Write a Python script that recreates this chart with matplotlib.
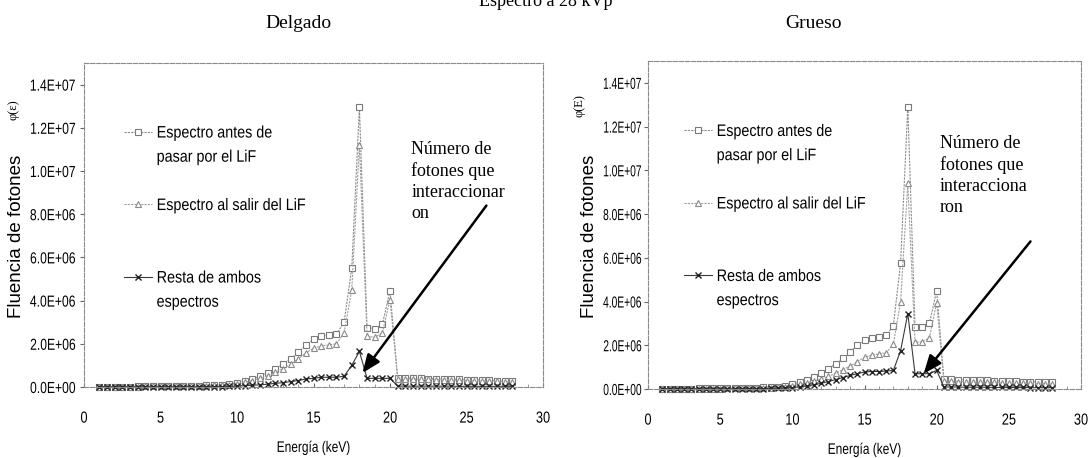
import numpy as np
import matplotlib
matplotlib.use("Agg")
import matplotlib.pyplot as plt
from matplotlib.lines import Line2D
from matplotlib.ticker import FuncFormatter, MultipleLocator
from matplotlib.patheffects import AbstractPathEffect
from matplotlib.transforms import Affine2D

# ---------------- data ----------------
energia = [1.0, 1.5, 2.0, 2.5, 3.0, 3.5, 4.0, 4.5, 5.0, 5.5, 6.0, 6.5, 7.0, 7.5,
           8.0, 8.5, 9.0, 9.5, 10.0, 10.5, 11.0, 11.5, 12.0, 12.5, 13.0, 13.5,
           14.0, 14.5, 15.0, 15.5, 16.0, 16.5, 17.0, 17.5, 18.0, 18.5, 19.0,
           19.5, 20.0, 20.5, 21.0, 21.5, 22.0, 22.5, 23.0, 23.5, 24.0, 24.5,
           25.0, 25.5, 26.0, 26.5, 27.0, 27.5, 28.0]

# Delgado (values in units of 1e6 photons)
delgado_antes = [0.02, 0.02, 0.02, 0.02, 0.02, 0.03, 0.03, 0.03, 0.03, 0.04, 0.04,
                 0.05, 0.05, 0.06, 0.07, 0.09, 0.11, 0.14, 0.20, 0.28, 0.38, 0.50,
                 0.65, 0.85, 1.05, 1.30, 1.60, 1.95, 2.20, 2.35, 2.40, 2.45, 3.00,
                 5.50, 12.95, 2.75, 2.70, 2.90, 4.45, 0.42, 0.42, 0.41, 0.40, 0.39,
                 0.38, 0.37, 0.36, 0.35, 0.34, 0.33, 0.32, 0.31, 0.30, 0.29, 0.28]
delgado_salir = [0.02, 0.02, 0.02, 0.02, 0.02, 0.02, 0.03, 0.03, 0.03, 0.03, 0.04,
                 0.04, 0.05, 0.05, 0.06, 0.07, 0.09, 0.11, 0.16, 0.22, 0.30, 0.40,
                 0.52, 0.68, 0.85, 1.05, 1.30, 1.58, 1.80, 1.90, 1.95, 2.00, 2.50,
                 4.50, 11.20, 2.35, 2.30, 2.50, 4.05, 0.38, 0.38, 0.37, 0.36, 0.35,
                 0.34, 0.33, 0.32, 0.31, 0.30, 0.29, 0.28, 0.27, 0.26, 0.25, 0.25]
delgado_resta = [0.01, 0.01, 0.01, 0.01, 0.01, 0.01, 0.01, 0.01, 0.01, 0.01, 0.01,
                 0.01, 0.01, 0.01, 0.02, 0.02, 0.02, 0.03, 0.04, 0.06, 0.08, 0.10,
                 0.13, 0.17, 0.20, 0.25, 0.30, 0.37, 0.40, 0.45, 0.45, 0.45, 0.50,
                 1.00, 1.65, 0.40, 0.40, 0.40, 0.40, 0.04, 0.04, 0.04, 0.04, 0.04,
                 0.04, 0.04, 0.04, 0.03, 0.03, 0.03, 0.03, 0.03, 0.03, 0.03, 0.03]

# Grueso
grueso_antes = [0.02, 0.02, 0.02, 0.02, 0.02, 0.03, 0.03, 0.03, 0.03, 0.04, 0.04,
                0.05, 0.05, 0.06, 0.07, 0.09, 0.11, 0.15, 0.22, 0.32, 0.42, 0.55,
                0.72, 0.92, 1.15, 1.40, 1.70, 2.00, 2.25, 2.35, 2.40, 2.45, 2.90,
                5.75, 12.90, 2.85, 2.85, 3.00, 4.50, 0.45, 0.44, 0.43, 0.42, 0.41,
                0.40, 0.39, 0.38, 0.37, 0.36, 0.35, 0.34, 0.33, 0.32, 0.31, 0.30]
grueso_salir = [0.01, 0.01, 0.01, 0.01, 0.01, 0.02, 0.02, 0.02, 0.02, 0.03, 0.03,
                0.03, 0.04, 0.04, 0.05, 0.06, 0.07, 0.10, 0.16, 0.22, 0.28, 0.36,
                0.46, 0.58, 0.72, 0.88, 1.05, 1.25, 1.45, 1.55, 1.60, 1.65, 2.05,
                4.00, 9.40, 2.15, 2.15, 2.35, 3.95, 0.36, 0.35, 0.34, 0.33, 0.32,
                0.31, 0.30, 0.30, 0.29, 0.28, 0.27, 0.27, 0.26, 0.25, 0.25, 0.24]
grueso_resta = [0.01, 0.01, 0.01, 0.01, 0.01, 0.01, 0.01, 0.01, 0.01, 0.01, 0.01,
                0.02, 0.02, 0.02, 0.02, 0.03, 0.04, 0.05, 0.06, 0.10, 0.14, 0.19,
                0.26, 0.34, 0.43, 0.52, 0.62, 0.70, 0.78, 0.80, 0.80, 0.82, 0.85,
                1.75, 3.45, 0.70, 0.70, 0.70, 0.85, 0.09, 0.09, 0.09, 0.08, 0.08,
                0.08, 0.08, 0.07, 0.07, 0.07, 0.07, 0.07, 0.06, 0.06, 0.06, 0.06]

escala = 1e6
titulos = ["Delgado", "Grueso"]
etiquetas_leyenda = ["Espectro antes de", "pasar por el LiF", "",
                     "Espectro al salir del LiF", "", "", "Resta de ambos", "espectros"]
textos_nota = ["Número de\nfotones que\ninteraccionar\non",
               "Número de\nfotones que\ninteracciona\nron"]
simbolos_phi = ["φ(ε)", "φ(E)"]


# ---------------- helpers ----------------
class Squeeze(AbstractPathEffect):
    """Draw text condensed horizontally (like an Arial Narrow look)."""

    def __init__(self, sx=0.8, anchor="center"):
        super().__init__()
        self.sx = sx
        self.anchor = anchor

    def draw_path(self, renderer, gc, tpath, affine, rgbFace=None):
        if len(tpath.vertices) == 0:
            return
        ext = tpath.get_extents()
        cx = {"left": ext.x0, "center": (ext.x0 + ext.x1) / 2,
              "right": ext.x1}[self.anchor]
        t = Affine2D().translate(-cx, 0).scale(self.sx, 1).translate(cx, 0)
        renderer.draw_path(gc, tpath, t + affine, rgbFace)


W, H = 1092, 458
fig = plt.figure(figsize=(W / 100, H / 100), dpi=100)
fig.patch.set_facecolor("white")

SANS = ["Liberation Sans", "DejaVu Sans"]
SERIF = ["Liberation Serif", "DejaVu Serif"]


def px_rect(x0, x1, ytop, ybot):
    return [x0 / W, 1 - ybot / H, (x1 - x0) / W, (ybot - ytop) / H]


ax_rects = [px_rect(84, 543, 63, 387), px_rect(648, 1081, 61, 389)]
series = [(delgado_antes, delgado_salir, delgado_resta),
          (grueso_antes, grueso_salir, grueso_resta)]
arrows = [((26.3, 8.4e6), (18.2, 0.65e6)), ((26.5, 6.75e6), (19.1, 0.7e6))]
nota_pos = [(21.4, 11.4e6), (20.2, 11.6e6)]
leg_anchor = [(40 / 459, 0.807), (36 / 433, 0.808)]
ylabel_x = [17, 589]
phi_pos = [(13, 110), (579, 106)]
title_x = [298, 813]
ytick_squeeze = [0.76, 0.64]
ytick_pad = [3, 1.5]

fmt = FuncFormatter(lambda v, p: f"{v:.1E}")

for k in range(2):
    ax = fig.add_axes(ax_rects[k])
    antes, salir, resta = [np.array(s) * escala for s in series[k]]
    x = np.array(energia)
    l1, = ax.plot(x, antes, color="#8c8c8c", lw=0.8, ls=(0, (2, 1)), marker="s",
                  ms=4.5, mfc="white", mec="#7a7a7a", mew=0.8, clip_on=False)
    l2, = ax.plot(x, salir, color="#a0a0a0", lw=0.8, ls=(0, (2, 1)), marker="^",
                  ms=4.5, mfc="white", mec="#8a8a8a", mew=0.8, clip_on=False)
    l3, = ax.plot(x, resta, color="#3a3a3a", lw=0.8, ls="-", marker="x",
                  ms=4.5, mec="#222222", mew=1.0, clip_on=False)

    ax.set_xlim(0, 30)
    ax.set_ylim(0, 1.5e7)
    ax.set_xticks([0, 5, 10, 15, 20, 25, 30])
    ax.set_yticks(np.arange(0, 1.41e7, 2e6))
    ax.yaxis.set_major_formatter(fmt)
    ax.xaxis.set_minor_locator(MultipleLocator(1))
    for lab in ax.get_xticklabels():
        lab.set_family(SANS)
        lab.set_fontsize(11.5)
        lab.set_path_effects([Squeeze(0.8, "center")])
    for lab in ax.get_yticklabels():
        lab.set_family(SANS)
        lab.set_fontsize(11.5)
        lab.set_path_effects([Squeeze(ytick_squeeze[k], "right")])
    ax.tick_params(axis="x", which="major", direction="in", length=3, pad=17,
                   color="#666666")
    ax.tick_params(axis="x", which="minor", direction="in", length=2, color="#888888")
    ax.tick_params(axis="y", direction="out", length=3, pad=ytick_pad[k],
                   color="#666666")
    for sp in ax.spines.values():
        sp.set_color("#8a8a8a")
        sp.set_linewidth(0.8)
        sp.set_linestyle((0, (4, 1.5)))
    xl = ax.set_xlabel("Energía (keV)", family=SANS, fontsize=11, labelpad=11)
    xl.set_path_effects([Squeeze(0.78, "center")])

    blank = Line2D([], [], ls="none")
    handles = [l1, blank, blank, l2, blank, blank, l3, blank]
    leg = ax.legend(handles, etiquetas_leyenda, loc="upper left",
                    bbox_to_anchor=leg_anchor[k], frameon=False,
                    prop={"family": SANS, "size": 12},
                    handlelength=1.65, handletextpad=0.3, labelspacing=0.55,
                    borderpad=0, borderaxespad=0)
    for t in leg.get_texts():
        t.set_path_effects([Squeeze(0.86, "left")])

    (xs, ys), (xt, yt) = arrows[k]
    ax.annotate("", xy=(xt, yt), xytext=(xs, ys),
                arrowprops=dict(arrowstyle="-|>,head_length=1.1,head_width=0.45",
                                color="black", lw=1.8, shrinkA=0, shrinkB=0))
    ax.text(nota_pos[k][0], nota_pos[k][1], textos_nota[k], family=SERIF,
            fontsize=13, va="top", ha="left", linespacing=1.3)

    fig.text(ylabel_x[k] / W, 1 - 236 / H, "Fluencia de fotones", rotation=90,
             family=SANS, fontsize=13.5, ha="center", va="center")
    fig.text(phi_pos[k][0] / W, 1 - phi_pos[k][1] / H, simbolos_phi[k], rotation=90,
             family=SERIF, fontsize=9, ha="center", va="center")
    fig.text(title_x[k] / W, 1 - 23 / H, titulos[k], family=SERIF, fontsize=14,
             ha="center", va="center")

fig.text(546 / W, 1 - 2 / H, "Espectro a 28 kVp", family=SERIF, fontsize=13,
         ha="center", va="center")

fig.savefig("out.png", dpi=100, facecolor="white")
